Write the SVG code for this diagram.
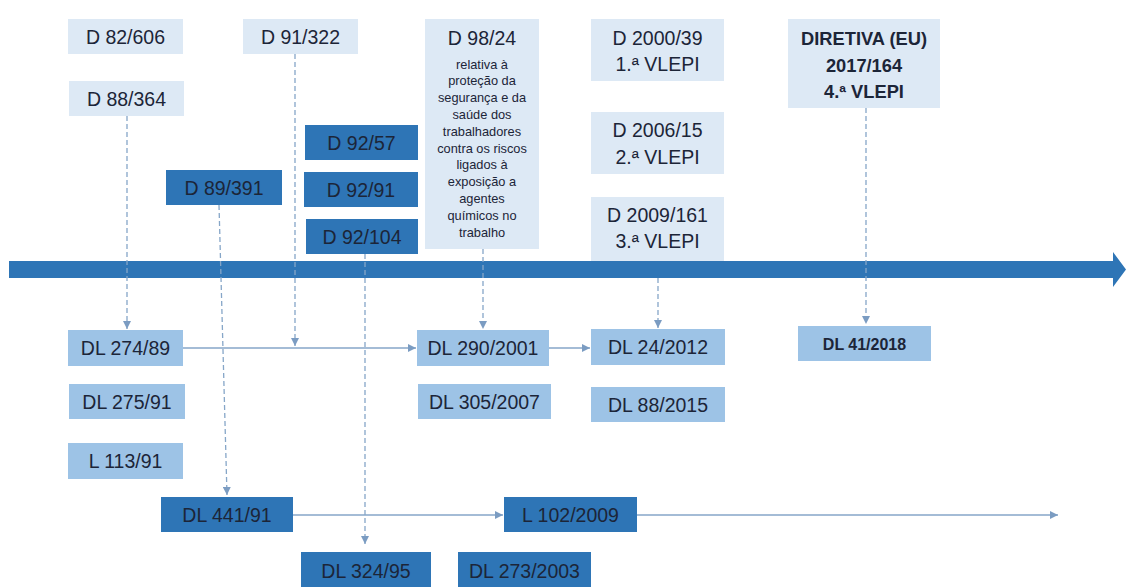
<svg xmlns="http://www.w3.org/2000/svg" width="1126" height="587" viewBox="0 0 1126 587">
<style>
text{font-family:"Liberation Sans",Arial,sans-serif;fill:#1c2538;text-anchor:middle;dominant-baseline:central}
.t{font-size:19.5px}
.s{font-size:12.8px}
.b{font-weight:bold;font-size:18.3px}
.bs{font-weight:bold;font-size:16px}
.top{fill:#dde9f5}
.mid{fill:#9dc3e6}
.dark{fill:#2e75b6}
.c{stroke:#86a6c8;stroke-width:1.3;fill:none}
.d{stroke-dasharray:5 3}
</style>
<defs>
<marker id="ah" viewBox="0 0 10 10" refX="10" refY="5" markerWidth="8" markerHeight="8" markerUnits="userSpaceOnUse" orient="auto">
<path d="M0,0 L10,5 L0,10 z" fill="#7b9cc2"/>
</marker>
</defs>
<rect width="1126" height="587" fill="#ffffff"/>
<g id="axis">
<path d="M9,261 H1113 V252 L1126,269.5 L1113,287 V278 H9 z" fill="#2e75b6"/>
</g>
<g id="connectors">
<line class="c d" x1="127" y1="116" x2="127" y2="329" marker-end="url(#ah)"/>
<line class="c d" x1="295" y1="54" x2="295" y2="346" marker-end="url(#ah)"/>
<line class="c d" x1="219" y1="205" x2="227" y2="495" marker-end="url(#ah)"/>
<line class="c d" x1="365" y1="254" x2="365" y2="544" marker-end="url(#ah)"/>
<line class="c d" x1="483" y1="249" x2="483" y2="329" marker-end="url(#ah)"/>
<line class="c d" x1="658" y1="278" x2="658" y2="328" marker-end="url(#ah)"/>
<line class="c d" x1="866" y1="108" x2="866" y2="324" marker-end="url(#ah)"/>
<line class="c" x1="183" y1="348" x2="416" y2="348" marker-end="url(#ah)"/>
<line class="c" x1="549" y1="348" x2="590" y2="348" marker-end="url(#ah)"/>
<line class="c" x1="293" y1="515" x2="503" y2="515" marker-end="url(#ah)"/>
<line class="c" x1="637" y1="515" x2="1058" y2="515" marker-end="url(#ah)"/>
</g>
<g id="n-d82-606"><rect class="top" x="68" y="19" width="115" height="35"/><text class="t" x="125.5" y="37">D 82/606</text></g>
<g id="n-d91-322"><rect class="top" x="243" y="19" width="115" height="35"/><text class="t" x="300.5" y="37">D 91/322</text></g>
<g id="n-d88-364"><rect class="top" x="69" y="81" width="115" height="35"/><text class="t" x="126.5" y="99">D 88/364</text></g>
<g id="n-d92-57"><rect class="dark" x="305" y="125" width="113" height="35"/><text class="t" x="361.5" y="143">D 92/57</text></g>
<g id="n-d92-91"><rect class="dark" x="304" y="172" width="114" height="35"/><text class="t" x="361" y="190">D 92/91</text></g>
<g id="n-d92-104"><rect class="dark" x="306" y="219" width="112" height="35"/><text class="t" x="362" y="237">D 92/104</text></g>
<g id="n-d89-391"><rect class="dark" x="166" y="170" width="116" height="35"/><text class="t" x="224" y="188">D 89/391</text></g>
<g id="n-d98-24"><rect class="top" x="425" y="19" width="114" height="230"/>
<text class="t" x="482" y="38">D 98/24</text>
<text class="s" x="482" y="64">relativa à</text>
<text class="s" x="482" y="80.8">proteção da</text>
<text class="s" x="482" y="97.6">segurança e da</text>
<text class="s" x="482" y="114.4">saúde dos</text>
<text class="s" x="482" y="131.2">trabalhadores</text>
<text class="s" x="482" y="148">contra os riscos</text>
<text class="s" x="482" y="164.8">ligados à</text>
<text class="s" x="482" y="181.6">exposição a</text>
<text class="s" x="482" y="198.4">agentes</text>
<text class="s" x="482" y="215.2">químicos no</text>
<text class="s" x="482" y="232">trabalho</text>
</g>
<g id="n-d2000-39"><rect class="top" x="591" y="19" width="133" height="62"/><text class="t" x="657.5" y="38">D 2000/39</text><text class="t" x="657.5" y="64">1.ª VLEPI</text></g>
<g id="n-d2006-15"><rect class="top" x="591" y="112" width="133" height="62"/><text class="t" x="657.5" y="130">D 2006/15</text><text class="t" x="657.5" y="157">2.ª VLEPI</text></g>
<g id="n-d2009-161"><rect class="top" x="591" y="197" width="133" height="64"/><text class="t" x="657.5" y="215">D 2009/161</text><text class="t" x="657.5" y="241">3.ª VLEPI</text></g>
<g id="n-diretiva"><rect class="top" x="788" y="19" width="152" height="89"/><text class="b" x="864" y="38">DIRETIVA (EU)</text><text class="b" x="864" y="65">2017/164</text><text class="b" x="864" y="91">4.ª VLEPI</text></g>
<g id="n-dl274-89"><rect class="mid" x="68" y="330" width="115" height="36"/><text class="t" x="125.5" y="348">DL 274/89</text></g>
<g id="n-dl275-91"><rect class="mid" x="69" y="384" width="116" height="35"/><text class="t" x="127" y="402">DL 275/91</text></g>
<g id="n-l113-91"><rect class="mid" x="68" y="443" width="115" height="36"/><text class="t" x="125.5" y="461">L 113/91</text></g>
<g id="n-dl441-91"><rect class="dark" x="161" y="497" width="132" height="35"/><text class="t" x="227" y="515">DL 441/91</text></g>
<g id="n-dl324-95"><rect class="dark" x="301" y="552" width="130" height="40"/><text class="t" x="366" y="571">DL 324/95</text></g>
<g id="n-dl290-2001"><rect class="mid" x="417" y="330" width="132" height="36"/><text class="t" x="483" y="348">DL 290/2001</text></g>
<g id="n-dl305-2007"><rect class="mid" x="418" y="384" width="133" height="35"/><text class="t" x="484.5" y="402">DL 305/2007</text></g>
<g id="n-dl24-2012"><rect class="mid" x="591" y="329" width="134" height="36"/><text class="t" x="658" y="347">DL 24/2012</text></g>
<g id="n-dl88-2015"><rect class="mid" x="591" y="387" width="134" height="35"/><text class="t" x="658" y="405">DL 88/2015</text></g>
<g id="n-l102-2009"><rect class="dark" x="504" y="497" width="133" height="35"/><text class="t" x="570.5" y="515">L 102/2009</text></g>
<g id="n-dl273-2003"><rect class="dark" x="458" y="552" width="133" height="40"/><text class="t" x="524.5" y="571">DL 273/2003</text></g>
<g id="n-dl41-2018"><rect class="mid" x="798" y="326" width="133" height="35"/><text class="bs" x="864.5" y="344">DL 41/2018</text></g>
</svg>
